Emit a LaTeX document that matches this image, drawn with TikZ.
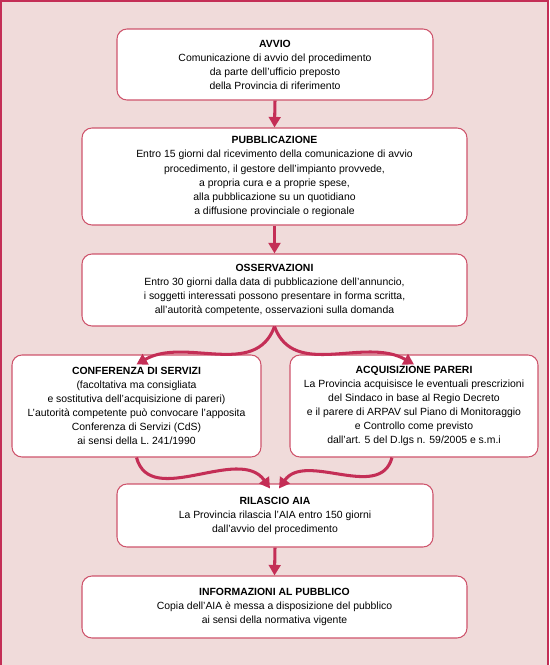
\documentclass[tikz,border=0pt]{standalone}
\usepackage{fontspec}
\setmainfont{Liberation Sans}
\usetikzlibrary{arrows.meta}
\definecolor{bgpink}{RGB}{240,219,218}
\definecolor{arrred}{RGB}{196,46,86}
\definecolor{boxred}{RGB}{206,84,108}

\begin{document}
\begin{tikzpicture}[x=0.03cm,y=-0.03cm,
  box/.style={draw=boxred,line width=0.9pt,fill=white,rounded corners=0.3cm,align=center,inner sep=2pt,font=\fontsize{8.9}{12}\selectfont},
  arr/.style={draw=arrred,line width=2.6pt,-{Triangle[width=10pt,length=9pt]}}]
\fill[bgpink] (0,0) rectangle (549,665);
\useasboundingbox (0,0) rectangle (549,665);
\draw[arrred,line width=1.8pt] (1,665) -- (1,1) -- (548,1) -- (548,665);

\node[box,minimum width=9.48cm,minimum height=2.13cm] (avvio) at (275,64.5) {\textbf{AVVIO}\\Comunicazione di avvio del procedimento\\da parte dell’ufficio preposto\\della Provincia di riferimento};
\node[box,minimum width=11.55cm,minimum height=2.91cm] (pubbl) at (274.5,176.5) {\textbf{PUBBLICAZIONE}\\Entro 15 giorni dal ricevimento della comunicazione di avvio\\procedimento, il gestore dell’impianto provvede,\\a propria cura e a proprie spese,\\alla pubblicazione su un quotidiano\\a diffusione provinciale o regionale};
\node[box,minimum width=11.55cm,minimum height=2.16cm] (oss) at (274.5,290) {\textbf{OSSERVAZIONI}\\Entro 30 giorni dalla data di pubblicazione dell’annuncio,\\i soggetti interessati possono presentare in forma scritta,\\all’autorità competente, osservazioni sulla domanda};
\node[box,minimum width=7.47cm,minimum height=3.06cm] (conf) at (136.5,406) {\textbf{CONFERENZA DI SERVIZI}\\(facoltativa ma consigliata\\e sostitutiva dell’acquisizione di pareri)\\L’autorità competente può convocare l’apposita\\Conferenza di Servizi (CdS)\\ai sensi della L. 241/1990};
\node[box,minimum width=7.44cm,minimum height=3.06cm] (acq) at (414,406) {\textbf{ACQUISIZIONE PARERI}\\La Provincia acquisisce le eventuali prescrizioni\\del Sindaco in base al Regio Decreto\\e il parere di ARPAV sul Piano di Monitoraggio\\e Controllo come previsto\\dall’art. 5 del D.lgs n. 59/2005 e s.m.i};
\node[box,minimum width=9.48cm,minimum height=1.89cm] (ril) at (275,515.5) {\textbf{RILASCIO AIA}\\La Provincia rilascia l’AIA entro 150 giorni\\dall’avvio del procedimento};
\node[box,minimum width=11.55cm,minimum height=1.86cm] (info) at (274.5,607) {\textbf{INFORMAZIONI AL PUBBLICO}\\Copia dell’AIA è messa a disposizione del pubblico\\ai sensi della normativa vigente};

\coordinate (confin) at ([yshift=-0.3cm]conf.north);
\coordinate (acqin) at ([yshift=-0.3cm]acq.north);
\coordinate (acqout) at ([xshift=-0.66cm]acq.south);
\coordinate (rilL) at ([xshift=-0.15cm,yshift=-0.15cm]ril.north);
\coordinate (rilR) at ([xshift=0.12cm,yshift=-0.15cm]ril.north);

\draw[arr] (avvio.south) -- (pubbl.north);
\draw[arr] (pubbl.south) -- (oss.north);
\draw[arr] (oss.south) to[out=-110,in=30] (confin);
\draw[arr] (oss.south) to[out=-70,in=150] (acqin);
\draw[arr] (conf.south) to[out=-75,in=125] (rilL);
\draw[arr] (acqout) to[out=-105,in=55] (rilR);
\draw[arr] (ril.south) -- (info.north);
\end{tikzpicture}
\end{document}
